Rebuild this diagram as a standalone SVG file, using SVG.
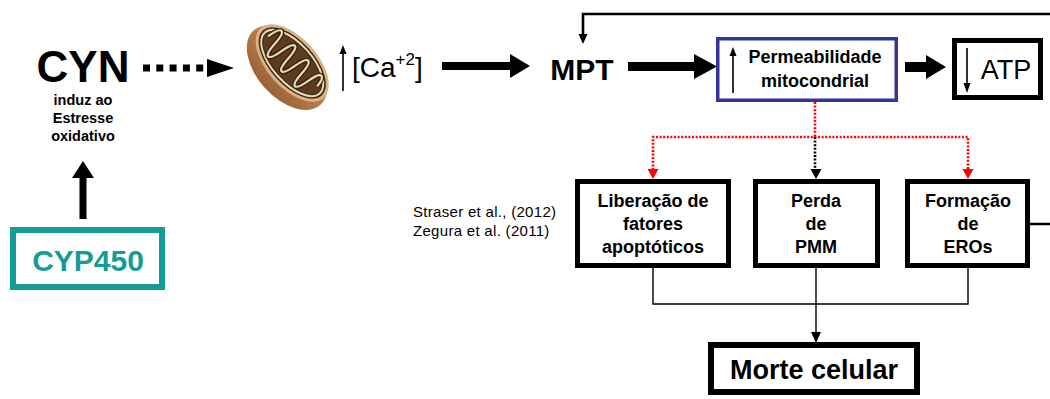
<svg xmlns="http://www.w3.org/2000/svg" width="1050" height="399" viewBox="0 0 1050 399">
  <defs>
    <style>
      text { font-family: "Liberation Sans", Arial, sans-serif; fill: #000; }
      .b { font-weight: bold; }
      .mid { text-anchor: middle; }
      .box { fill: #fff; stroke: #000; stroke-width: 5; }
      .thin { fill: none; stroke: #000; stroke-width: 1.4; }
      .fb { fill: none; stroke: #000; stroke-width: 2.6; }
      .red { fill: none; stroke: #ff0000; stroke-width: 2.6; stroke-dasharray: 2 1.6; }
      .blk { fill: none; stroke: #000; stroke-width: 2.6; stroke-dasharray: 2 1.6; }
      .hd { fill: #000; }
      .hdr { fill: #ff0000; }
    </style>
    <linearGradient id="wall" x1="0" y1="0" x2="0" y2="1">
      <stop offset="0" stop-color="#d09562"/>
      <stop offset="1" stop-color="#9a6234"/>
    </linearGradient>
  </defs>

  <rect width="1050" height="399" fill="#fff"/>

  <!-- connectors -->
  <g id="connectors">
    <!-- CYN to mitochondrion, dotted -->
    <line x1="143" y1="68" x2="206" y2="68" stroke="#000" stroke-width="7" stroke-dasharray="7 6.3"/>
    <polygon class="hd" points="207,59 234,68 207,77"/>
    <!-- CYP450 up to CYN -->
    <rect x="79.5" y="176" width="7" height="43" class="hd"/>
    <polygon class="hd" points="72,178 83,161 94,178"/>
    <!-- Ca to MPT -->
    <rect x="442" y="62" width="72" height="8" class="hd"/>
    <polygon class="hd" points="510,54 530,66 510,78"/>
    <!-- MPT to permeability -->
    <rect x="628" y="62" width="70" height="9" class="hd"/>
    <polygon class="hd" points="694,54 717,66.5 694,79"/>
    <!-- permeability to ATP -->
    <rect x="905" y="62" width="24" height="10" class="hd"/>
    <polygon class="hd" points="926,55 946,67 926,79"/>
    <!-- feedback loop from ROS back to MPT -->
    <path class="fb" d="M1030,224 H1060 V14 H583 V36"/>
    <polygon class="hd" points="578.5,34 583,44 587.5,34"/>
    <!-- dotted branches from permeability -->
    <path class="red" d="M815,102 V137"/>
    <path class="red" d="M653,170 V137 H968 V170"/>
    <path class="blk" d="M815,137 V170"/>
    <polygon class="hdr" points="647.5,169 653,179 658.5,169"/>
    <polygon class="hdr" points="962.5,169 968,179 973.5,169"/>
    <polygon class="hd" points="810.5,169 816,179 821.5,169"/>
    <!-- outcomes to cell death -->
    <path class="thin" d="M653,268 V304 H968 V268"/>
    <path class="thin" d="M816,268 V334"/>
    <polygon class="hd" points="811,332 816,343 821,332"/>
  </g>

  <!-- CYN -->
  <g id="cyn">
    <text x="83" y="82" class="b mid" font-size="44">CYN</text>
    <text x="83" y="105" class="b mid" font-size="14.5">induz ao</text>
    <text x="83" y="123" class="b mid" font-size="14.5">Estresse</text>
    <text x="83" y="141" class="b mid" font-size="14.5">oxidativo</text>
  </g>

  <!-- CYP450 -->
  <g id="cyp450">
    <rect x="13" y="230" width="149" height="57" fill="#fff" stroke="#159c97" stroke-width="6"/>
    <text x="88" y="271" class="b mid" font-size="30" style="fill:#159c97">CYP450</text>
  </g>

  <!-- mitochondrion, cut open to show the cristae -->
  <g id="mitochondrion" transform="translate(290,65) rotate(48)">
    <ellipse cx="0" cy="4" rx="50" ry="30" fill="url(#wall)"/>
    <ellipse cx="0" cy="-3" rx="47" ry="25" fill="#dcb386"/>
    <ellipse cx="0" cy="-3" rx="44" ry="22" fill="#5e3b20"/>
    <ellipse cx="0" cy="-3" rx="41" ry="19.5" fill="none" stroke="#3a2412" stroke-width="4"/>
    <ellipse cx="0" cy="-3" rx="41" ry="19.5" fill="none" stroke="#e8dcb4" stroke-width="2"/>
    <path d="M-36,-3 C-34,-21 -28,-21 -26,-3 S-18,15 -16,-3 S-8,-21 -6,-3 S2,15 4,-3 S12,-21 14,-3 S22,15 24,-3 S32,-19 34,-6" fill="none" stroke="#3a2412" stroke-width="5"/>
    <path d="M-36,-3 C-34,-21 -28,-21 -26,-3 S-18,15 -16,-3 S-8,-21 -6,-3 S2,15 4,-3 S12,-21 14,-3 S22,15 24,-3 S32,-19 34,-6" fill="none" stroke="#e8dcb4" stroke-width="2.2"/>
  </g>

  <!-- calcium -->
  <g id="calcium">
    <line x1="343" y1="91" x2="343" y2="52" stroke="#000" stroke-width="1.6"/>
    <polygon class="hd" points="339.5,54 343,45 346.5,54"/>
    <text x="352" y="77" font-size="28">[Ca<tspan font-size="17" dy="-12">+2</tspan><tspan dy="12">]</tspan></text>
  </g>

  <!-- MPT -->
  <g id="mpt">
    <text x="582" y="80" class="b mid" font-size="30">MPT</text>
  </g>

  <!-- mitochondrial permeability -->
  <g id="permeabilidade">
    <rect x="717.75" y="38.75" width="178.5" height="61.5" fill="#fff" stroke="#333399" stroke-width="3.5"/>
    <line x1="733" y1="93" x2="733" y2="54" stroke="#000" stroke-width="1.6"/>
    <polygon class="hd" points="729.5,56 733,47 736.5,56"/>
    <text x="815" y="63" class="b mid" font-size="18">Permeabilidade</text>
    <text x="815" y="87" class="b mid" font-size="18">mitocondrial</text>
  </g>

  <!-- ATP -->
  <g id="atp">
    <rect x="954.5" y="40.5" width="86" height="57" class="box"/>
    <line x1="967" y1="48" x2="967" y2="85" stroke="#000" stroke-width="1.6"/>
    <polygon class="hd" points="963.5,83 967,93 970.5,83"/>
    <text x="1006" y="79" class="mid" font-size="27">ATP</text>
  </g>

  <!-- references -->
  <g id="refs">
    <text x="413" y="217" font-size="15" letter-spacing="0.3">Straser et al., (2012)</text>
    <text x="413" y="236" font-size="15" letter-spacing="0.3">Zegura et al. (2011)</text>
  </g>

  <!-- outcomes -->
  <g id="liberacao">
    <rect x="577.5" y="181.5" width="151" height="84" class="box"/>
    <text x="653" y="207" class="b mid" font-size="18">Liberação de</text>
    <text x="653" y="230" class="b mid" font-size="18">fatores</text>
    <text x="653" y="253" class="b mid" font-size="18">apoptóticos</text>
  </g>
  <g id="perda">
    <rect x="755.5" y="181.5" width="122" height="84" class="box"/>
    <text x="816" y="207" class="b mid" font-size="18">Perda</text>
    <text x="816" y="230" class="b mid" font-size="18">de</text>
    <text x="816" y="253" class="b mid" font-size="18">PMM</text>
  </g>
  <g id="formacao">
    <rect x="907.5" y="181.5" width="120" height="84" class="box"/>
    <text x="968" y="207" class="b mid" font-size="18">Formação</text>
    <text x="968" y="230" class="b mid" font-size="18">de</text>
    <text x="968" y="253" class="b mid" font-size="18">EROs</text>
  </g>

  <!-- cell death -->
  <g id="morte">
    <rect x="711" y="345" width="206" height="47" fill="#fff" stroke="#000" stroke-width="6"/>
    <text x="814" y="379" class="b mid" font-size="27">Morte celular</text>
  </g>
</svg>
